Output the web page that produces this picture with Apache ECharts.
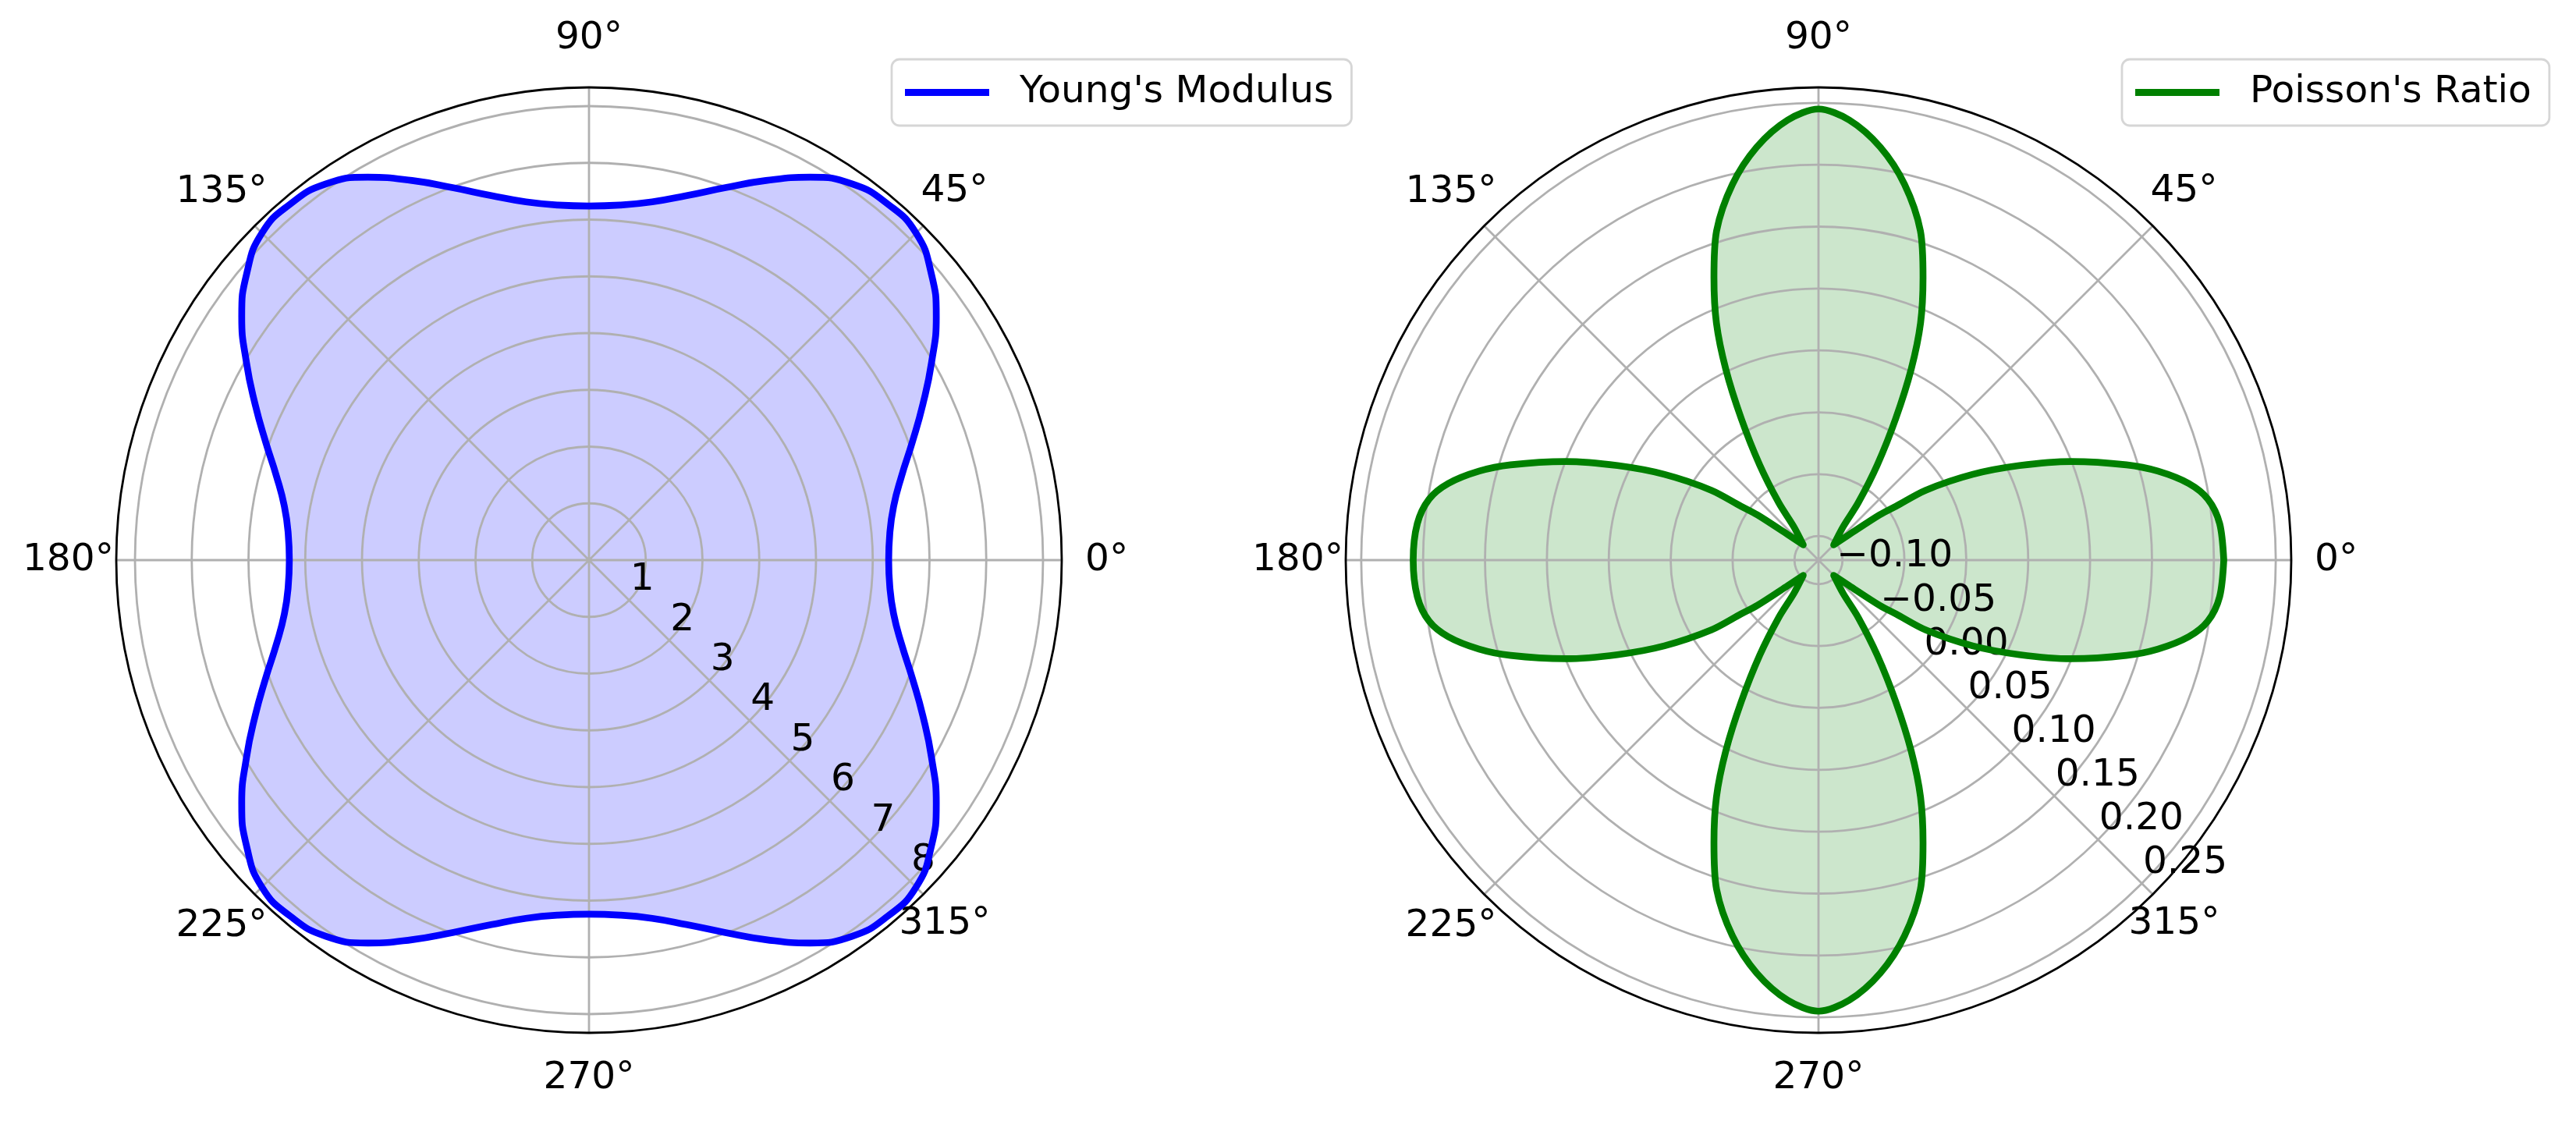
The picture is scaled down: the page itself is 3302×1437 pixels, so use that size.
<!DOCTYPE html>
<html>
<head>
<meta charset="utf-8">
<script src="https://cdn.jsdelivr.net/npm/echarts@6/dist/echarts.min.js"></script>
<style>
  html, body { margin: 0; padding: 0; background: #fff; }
  #chart { width: 3302px; height: 1437px; }
</style>
</head>
<body>
<div id="chart"></div>
<script>
// Young's modulus and Poisson's ratio, two polar plots side by side
const FONT = 'DejaVu Sans';

// left plot: Young's modulus, every 5 degrees
const youngAngles = [
  0, 5, 10, 15, 20, 25, 30, 35, 40, 45, 50, 55, 60, 65, 70, 75, 80, 85, 90,
  95, 100, 105, 110, 115, 120, 125, 130, 135, 140, 145, 150, 155, 160, 165, 170, 175, 180,
  185, 190, 195, 200, 205, 210, 215, 220, 225, 230, 235, 240, 245, 250, 255, 260, 265, 270,
  275, 280, 285, 290, 295, 300, 305, 310, 315, 320, 325, 330, 335, 340, 345, 350, 355, 360
];
const youngValues = [
  5.28, 5.32, 5.45, 5.70, 6.06, 6.49, 6.97, 7.47, 7.87, 8.15, 8.19, 8.09, 7.79, 7.38, 6.98, 6.65, 6.41, 6.28, 6.24,
  6.28, 6.41, 6.65, 6.98, 7.38, 7.79, 8.09, 8.19, 8.15, 7.87, 7.47, 6.97, 6.49, 6.06, 5.70, 5.45, 5.32, 5.28,
  5.32, 5.45, 5.70, 6.06, 6.49, 6.97, 7.47, 7.87, 8.15, 8.19, 8.09, 7.79, 7.38, 6.98, 6.65, 6.41, 6.28, 6.24,
  6.28, 6.41, 6.65, 6.98, 7.38, 7.79, 8.09, 8.19, 8.15, 7.87, 7.47, 6.97, 6.49, 6.06, 5.70, 5.45, 5.32, 5.28
];

// right plot: Poisson's ratio, denser near the four tips
const poissonAngles = [
  0, 5.2, 8.9, 11.7, 14.7, 17.2, 21.3, 25.2, 29.1, 33.1, 34.8, 36.5, 39.7, 45,
  53.5, 55.3, 58.3, 61.4, 64.1, 66.7, 69.7, 72.8, 77.1, 81.5, 86, 90,
  94, 98.5, 102.9, 107.2, 110.3, 113.3, 115.9, 118.6, 121.7, 124.7, 126.5, 135,
  140.3, 143.5, 145.2, 146.9, 150.9, 154.8, 158.7, 162.8, 165.3, 168.3, 171.1, 174.8, 180,
  185.2, 188.9, 191.7, 194.7, 197.2, 201.3, 205.2, 209.1, 213.1, 214.8, 216.5, 219.7, 225,
  233.5, 235.3, 238.3, 241.4, 244.1, 246.7, 249.7, 252.8, 257.1, 261.5, 266, 270,
  274, 278.5, 282.9, 287.2, 290.3, 293.3, 295.9, 298.6, 301.7, 304.7, 306.5, 315,
  320.3, 323.5, 325.2, 326.9, 330.9, 334.8, 338.7, 342.8, 345.3, 348.3, 351.1, 354.8, 360
];
const poissonValues = [
  0.208, 0.206, 0.199, 0.186, 0.164, 0.141, 0.100, 0.060, 0.023, -0.016, -0.043, -0.058, -0.087, -0.102,
  -0.086, -0.063, -0.029, 0.011, 0.052, 0.089, 0.124, 0.159, 0.192, 0.218, 0.237, 0.245,
  0.237, 0.218, 0.192, 0.159, 0.124, 0.089, 0.052, 0.011, -0.029, -0.063, -0.086, -0.102,
  -0.087, -0.058, -0.043, -0.016, 0.023, 0.060, 0.100, 0.141, 0.164, 0.186, 0.199, 0.206, 0.208,
  0.206, 0.199, 0.186, 0.164, 0.141, 0.100, 0.060, 0.023, -0.016, -0.043, -0.058, -0.087, -0.102,
  -0.086, -0.063, -0.029, 0.011, 0.052, 0.089, 0.124, 0.159, 0.192, 0.218, 0.237, 0.245,
  0.237, 0.218, 0.192, 0.159, 0.124, 0.089, 0.052, 0.011, -0.029, -0.063, -0.086, -0.102,
  -0.087, -0.058, -0.043, -0.016, 0.023, 0.060, 0.100, 0.141, 0.164, 0.186, 0.199, 0.206, 0.208
];

// radial ring / label values
const youngTicks = [1, 2, 3, 4, 5, 6, 7, 8];
const poissonTicks = [-0.10, -0.05, 0.00, 0.05, 0.10, 0.15, 0.20, 0.25];

// angle axis runs -45..315 so the radial labels sit on the 315 deg spoke
function toAxisAngle(a) { return a > 315 ? a - 360 : a; }
function pairs(values, angles) {
  return values.map(function (v, i) { return [v, toAxisAngle(angles[i])]; });
}
const youngData = pairs(youngValues, youngAngles);
const poissonData = pairs(poissonValues, poissonAngles);

// per-label padding so angle labels end up centred ~60px outside the circle
const anglePad = {
  0: [0, 0, 0, 74], 45: [0, 0, 51, 28], 90: [0, 0, 82, 0], 135: [0, 15, 50, 0],
  180: [0, 47, 0, 0], 225: [47, 15, 0, 0], 270: [78, 0, 0, 0], 315: [44, 0, 0, 0]
};
const angleRich = {};
Object.keys(anglePad).forEach(function (k) {
  angleRich['a' + k] = {
    fontSize: 48.6, fontFamily: FONT, color: '#000', padding: anglePad[k]
  };
});

const GRID = { color: '#b0b0b0', width: 2.8 };

function angleAxis(idx) {
  return {
    polarIndex: idx,
    type: 'value',
    min: -45,
    max: 315,
    interval: 45,
    startAngle: 315,
    clockwise: false,
    z: 2,
    axisLine: { show: true, lineStyle: { color: '#000', width: 2.8 } },
    axisTick: { show: false },
    splitLine: { show: true, lineStyle: GRID },
    axisLabel: {
      margin: -44,
      formatter: function (v) {
        const d = ((Math.round(v) % 360) + 360) % 360;
        return '{a' + d + '|' + d + '°}';
      },
      rich: angleRich
    }
  };
}

function radiusAxis(idx, min, max, ticks, fmt) {
  return {
    polarIndex: idx,
    type: 'value',
    min: min,
    max: max,
    z: 2,
    axisLine: { show: false },
    axisTick: { show: false, customValues: ticks },
    splitLine: { show: true, lineStyle: GRID },
    axisLabel: {
      customValues: ticks,
      margin: 2,
      align: 'left',
      verticalAlign: 'bottom',
      fontSize: 48.6,
      fontFamily: FONT,
      color: '#000',
      formatter: fmt
    }
  };
}

function legend(name, left) {
  return {
    data: [name],
    left: left,
    top: 76,
    padding: [18, 23, 18, 17],
    icon: 'rect',
    itemWidth: 108,
    itemHeight: 9,
    itemStyle: { borderWidth: 0 },
    borderColor: '#d6d6d6',
    borderWidth: 2.8,
    borderRadius: 10,
    backgroundColor: 'rgba(255,255,255,0.8)',
    formatter: function (n) { return '{t|' + n + '}'; },
    textStyle: {
      fontSize: 48.6, fontFamily: FONT, color: '#000',
      rich: { t: { fontSize: 48.6, fontFamily: FONT, color: '#000', lineHeight: 52, padding: [0, 0, 0, 34] } }
    }
  };
}

function fillSeries(idx, data, color, smooth) {
  return {
    type: 'line', name: 'fill' + idx, coordinateSystem: 'polar', polarIndex: idx,
    data: data, smooth: smooth, symbol: 'none', silent: true, z: 1,
    lineStyle: { width: 0, opacity: 0 },
    areaStyle: { color: color, opacity: 1, origin: 'start' }
  };
}

function lineSeries(idx, name, data, color, smooth) {
  return {
    type: 'line', name: name, coordinateSystem: 'polar', polarIndex: idx,
    data: data, smooth: smooth, symbol: 'none', z: 3,
    itemStyle: { color: color },
    lineStyle: { color: color, width: 8.7, join: 'round', cap: 'round' }
  };
}

const chart = echarts.init(document.getElementById('chart'), null, { renderer: 'canvas' });
chart.setOption({
  animation: false,
  backgroundColor: '#fff',
  polar: [
    { center: [755, 718], radius: 606 },
    { center: [2331, 718], radius: 606 }
  ],
  angleAxis: [angleAxis(0), angleAxis(1)],
  radiusAxis: [
    radiusAxis(0, 0, 8.33, youngTicks, function (v) { return String(v); }),
    radiusAxis(1, -0.1194, 0.2625, poissonTicks, function (v) {
      return (v < -1e-9 ? '\u2212' : '') + Math.abs(v).toFixed(2);
    })
  ],
  legend: [legend("Young's Modulus", 1143), legend("Poisson's Ratio", 2720)],
  series: [
    fillSeries(0, youngData, 'rgba(0,0,255,0.2)', true),
    lineSeries(0, "Young's Modulus", youngData, '#0000ff', true),
    fillSeries(1, poissonData, 'rgba(0,128,0,0.2)', 0.3),
    lineSeries(1, "Poisson's Ratio", poissonData, '#008000', 0.3)
  ]
});
</script>
</body>
</html>
